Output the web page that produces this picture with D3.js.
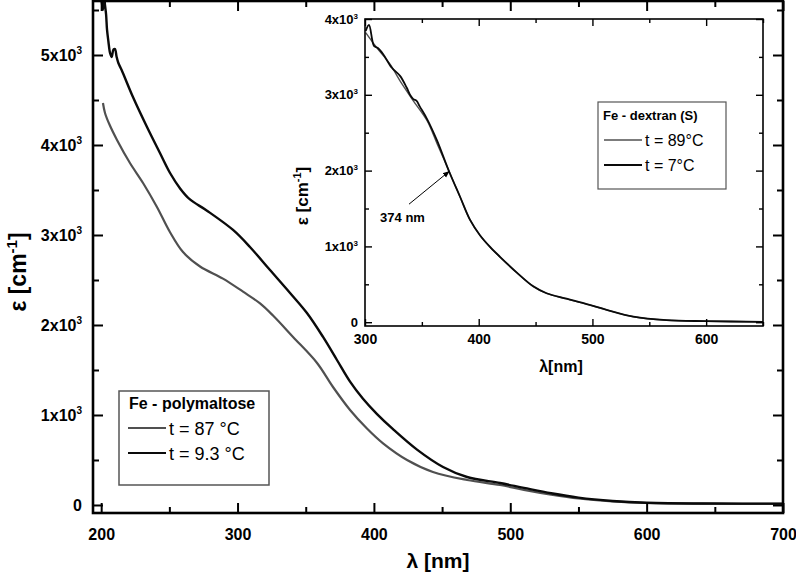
<!DOCTYPE html>
<html><head><meta charset="utf-8">
<script src="https://cdn.jsdelivr.net/npm/d3@7"></script>
<style>
body{margin:0;background:#fff;}
svg text{font-family:"Liberation Sans",Arial,sans-serif;}
</style></head><body>
<svg id="c" width="796" height="575"></svg>
<script>
// ---------- data ----------
const mainXTicks = [200, 300, 400, 500, 600, 700];
const mainXMinor = [250, 350, 450, 550, 650];
const mainYTicks = [0, 1000, 2000, 3000, 4000, 5000];
const mainYTickLabels = ["0", "1x10^3", "2x10^3", "3x10^3", "4x10^3", "5x10^3"];
const mainYMinor = [500, 1500, 2500, 3500, 4500, 5500];

const insetXTicks = [300, 400, 500, 600];
const insetXMinor = [350, 450, 550, 650];
const insetYTicks = [0, 1000, 2000, 3000, 4000];
const insetYTickLabels = ["0", "1x10^3", "2x10^3", "3x10^3", "4x10^3"];
const insetYMinor = [500, 1500, 2500, 3500];

const polyLegendTitle = "Fe - polymaltose";
const polyNames = ["t = 87 \u00b0C", "t = 9.3 \u00b0C"];
const dexLegendTitle = "Fe - dextran (S)";
const dexNames = ["t = 89\u00b0C", "t = 7\u00b0C"];

// Fe-polymaltose, 87 C  [lambda nm, epsilon cm-1]
const polyHot = [[201.3,4467],[202.8,4356],[206,4230],[211.6,4056],[221.1,3800],[230.7,3578],[240.9,3311],
  [250.5,3030],[260,2810],[272.5,2650],[289.3,2515],[304,2370],[316.5,2240],[326,2105],[340.7,1867],
  [358.3,1578],[370,1311],[382.5,1056],[394.9,850],[406.7,685],[424.3,500],[443.3,367],[468.3,278],
  [492.5,222],[510,168],[530,115],[550,72],[575,40],[600,22],[650,14],[700,13]];
// Fe-polymaltose, 9.3 C
const polyCold = [[199.5,5650],[200.5,5580],[201.3,5500],[202.2,5640],[202.8,5555],[203.6,5450],[204.3,5278],
  [205.3,5150],[206.5,5022],[207.7,4978],[209,5060],[210.1,5067],[211.3,4980],[212.6,4911],[215,4833],
  [223.3,4533],[233.6,4200],[243.1,3911],[250.5,3689],[258,3515],[265.1,3395],[277.6,3270],[296.7,3056],
  [309.1,2867],[323.8,2611],[338.5,2356],[350.9,2133],[362.7,1867],[372.9,1611],[382.5,1370],[392,1180],
  [402.3,1010],[414,842],[431.6,615],[450.7,422],[468.3,311],[492.5,244],[510,190],[530,130],[550,82],
  [575,45],[600,25],[650,16],[700,15]];
// Fe-dextran (S), 89 C
const dexHot = [[300.6,3820],[310.3,3622],[322,3404],[330.8,3184],[342.5,2921],[354.6,2658],[363.4,2355],
  [374.2,1985],[383.6,1652],[392.3,1350],[401.1,1145],[410,990],[418.7,860],[433.3,655],[448,470],[459.7,380],
  [477.3,308],[494.9,238],[512.5,162],[536,72],[565.3,26],[600,13],[650,4]];
// Fe-dextran (S), 7 C
const dexCold = [[300.6,3842],[303.5,3921],[307.9,3645],[311,3620],[316,3535],[323.4,3360],[330.8,3250],
  [336.6,3096],[340,2990],[342.5,2943],[345.4,2921],[348,2850],[354.6,2680],[363.4,2395],[374.2,1978],
  [383.6,1655],[392.3,1353],[401.1,1148],[410,993],[418.7,863],[433.3,658],[448,473],[459.7,382],[477.3,310],
  [494.9,240],[512.5,164],[536,74],[565.3,27],[600,14],[650,5]];

const annotation = {label: "374 nm", tip: [374, 1990], tail: [338.7, 1557], text: [333, 1319]};

// ---------- drawing ----------
const FONT = '"Liberation Sans", Arial, sans-serif';
const HOT = "#505050", COLD = "#0a0a0a";
const svg = d3.select("#c");
const defs = svg.append("defs");

function supText(sel, label, supSize, rise) {
  const parts = label.split("^");
  sel.text(parts[0]);
  if (parts.length > 1) {
    sel.append("tspan").attr("font-size", supSize).attr("dy", -rise).text(parts[1]);
  }
}

function styleAxis(g, sw, fontSize) {
  g.attr("font-family", FONT).attr("font-size", fontSize).attr("font-weight", "bold");
  g.select(".domain").remove();
  g.selectAll(".tick line").attr("stroke", "#000").attr("stroke-width", sw);
  g.selectAll(".tick text").attr("fill", "#000");
}

// ===== main plot =====
const mL = 93, mR = 783, mT = 1, mB = 513;
const x = d3.scaleLinear().domain([194, 700]).range([mL, mR]);
const y = d3.scaleLinear().domain([-89, 5600]).range([mB, mT]);

defs.append("clipPath").attr("id", "mclip").append("rect")
  .attr("x", mL).attr("y", mT).attr("width", mR - mL).attr("height", mB - mT);

const mainLine = d3.line().x(d => x(d[0])).y(d => y(d[1])).curve(d3.curveCatmullRom.alpha(0.5));
const mg = svg.append("g").attr("clip-path", "url(#mclip)");
mg.append("path").datum(polyHot).attr("d", mainLine).attr("fill", "none").attr("stroke", HOT).attr("stroke-width", 2.2);
mg.append("path").datum(polyCold).attr("d", mainLine).attr("fill", "none").attr("stroke", COLD).attr("stroke-width", 2.4);

// axes
let g;
g = svg.append("g").attr("transform", `translate(0,${mB})`)
  .call(d3.axisBottom(x).tickValues(mainXTicks).tickSizeInner(-10).tickSizeOuter(0).tickPadding(16).tickFormat(d3.format("d")));
styleAxis(g, 2, 16);
g = svg.append("g").attr("transform", `translate(0,${mB})`)
  .call(d3.axisBottom(x).tickValues(mainXMinor).tickSize(-6).tickFormat(""));
styleAxis(g, 2, 16);
g = svg.append("g").attr("transform", `translate(0,${mT})`)
  .call(d3.axisTop(x).tickValues(mainXTicks).tickSize(-10).tickFormat(""));
styleAxis(g, 2, 16);
g = svg.append("g").attr("transform", `translate(0,${mT})`)
  .call(d3.axisTop(x).tickValues(mainXMinor).tickSize(-6).tickFormat(""));
styleAxis(g, 2, 16);
g = svg.append("g").attr("transform", `translate(${mL},0)`)
  .call(d3.axisLeft(y).tickValues(mainYTicks).tickSizeInner(-10).tickSizeOuter(0).tickPadding(11)
    .tickFormat((d, i) => mainYTickLabels[i]));
styleAxis(g, 2, 16);
g.selectAll(".tick text").each(function(d, i) { supText(d3.select(this), mainYTickLabels[i], 10, 7); });
g = svg.append("g").attr("transform", `translate(${mL},0)`)
  .call(d3.axisLeft(y).tickValues(mainYMinor).tickSize(-6).tickFormat(""));
styleAxis(g, 2, 16);
g = svg.append("g").attr("transform", `translate(${mR},0)`)
  .call(d3.axisRight(y).tickValues(mainYTicks).tickSize(-10).tickFormat(""));
styleAxis(g, 2, 16);
g = svg.append("g").attr("transform", `translate(${mR},0)`)
  .call(d3.axisRight(y).tickValues(mainYMinor).tickSize(-6).tickFormat(""));
styleAxis(g, 2, 16);

svg.append("rect").attr("x", mL).attr("y", mT).attr("width", mR - mL).attr("height", mB - mT)
  .attr("fill", "none").attr("stroke", "#000").attr("stroke-width", 2.6);

// axis titles
svg.append("text").attr("x", (mL + mR) / 2).attr("y", 568).attr("text-anchor", "middle")
  .attr("font-size", 21).attr("font-weight", "bold").attr("font-family", FONT).text("\u03bb [nm]");
const yt = svg.append("text").attr("transform", "translate(26,272) rotate(-90)").attr("text-anchor", "middle")
  .attr("font-size", 23).attr("font-weight", "bold").attr("font-family", FONT);
yt.append("tspan").text("\u03b5 [cm");
yt.append("tspan").attr("font-size", 15).attr("dy", -9).text("-1");
yt.append("tspan").attr("dy", 9).text("]");

// main legend
const lg = svg.append("g");
lg.append("rect").attr("x", 119).attr("y", 391).attr("width", 150).attr("height", 94)
  .attr("fill", "#fff").attr("stroke", "#555").attr("stroke-width", 1.5);
lg.append("text").attr("x", 129).attr("y", 409).attr("font-size", 16).attr("font-weight", "bold")
  .attr("font-family", FONT).text(polyLegendTitle);
[HOT, COLD].forEach((c, i) => {
  const ly = 428 + i * 25;
  lg.append("line").attr("x1", 128).attr("x2", 166).attr("y1", ly).attr("y2", ly)
    .attr("stroke", c).attr("stroke-width", 2);
  lg.append("text").attr("x", 169).attr("y", ly + 7).attr("font-size", 18).attr("font-family", FONT)
    .text(polyNames[i]);
});

// ===== inset =====
const iL = 365, iR = 763, iT = 19, iB = 326;
const xi = d3.scaleLinear().domain([300, 650]).range([iL, iR]);
const yi = d3.scaleLinear().domain([-50, 4000]).range([iB, iT]);

svg.append("rect").attr("x", iL).attr("y", iT).attr("width", iR - iL).attr("height", iB - iT).attr("fill", "#fff");
defs.append("clipPath").attr("id", "iclip").append("rect")
  .attr("x", iL).attr("y", iT - 6).attr("width", iR - iL).attr("height", iB - iT + 6);
const insetLine = d3.line().x(d => xi(d[0])).y(d => yi(d[1])).curve(d3.curveCatmullRom.alpha(0.5));
const ig = svg.append("g").attr("clip-path", "url(#iclip)");
ig.append("path").datum(dexHot).attr("d", insetLine).attr("fill", "none").attr("stroke", HOT).attr("stroke-width", 1.4);
ig.append("path").datum(dexCold).attr("d", insetLine).attr("fill", "none").attr("stroke", COLD).attr("stroke-width", 1.8);

g = svg.append("g").attr("transform", `translate(0,${iB})`)
  .call(d3.axisBottom(xi).tickValues(insetXTicks).tickSizeInner(-7).tickSizeOuter(0).tickPadding(8).tickFormat(d3.format("d")));
styleAxis(g, 1.4, 14);
g = svg.append("g").attr("transform", `translate(0,${iB})`)
  .call(d3.axisBottom(xi).tickValues(insetXMinor).tickSize(-4).tickFormat(""));
styleAxis(g, 1.4, 14);
g = svg.append("g").attr("transform", `translate(0,${iT})`)
  .call(d3.axisTop(xi).tickValues(insetXTicks).tickSize(-7).tickFormat(""));
styleAxis(g, 1.4, 14);
g = svg.append("g").attr("transform", `translate(0,${iT})`)
  .call(d3.axisTop(xi).tickValues(insetXMinor).tickSize(-4).tickFormat(""));
styleAxis(g, 1.4, 14);
g = svg.append("g").attr("transform", `translate(${iL},0)`)
  .call(d3.axisLeft(yi).tickValues(insetYTicks).tickSizeInner(-7).tickSizeOuter(0).tickPadding(7)
    .tickFormat((d, i) => insetYTickLabels[i]));
styleAxis(g, 1.4, 13);
g.selectAll(".tick text").each(function(d, i) { supText(d3.select(this), insetYTickLabels[i], 8, 5); });
g = svg.append("g").attr("transform", `translate(${iL},0)`)
  .call(d3.axisLeft(yi).tickValues(insetYMinor).tickSize(-4).tickFormat(""));
styleAxis(g, 1.4, 13);
g = svg.append("g").attr("transform", `translate(${iR},0)`)
  .call(d3.axisRight(yi).tickValues(insetYTicks).tickSize(-7).tickFormat(""));
styleAxis(g, 1.4, 13);
g = svg.append("g").attr("transform", `translate(${iR},0)`)
  .call(d3.axisRight(yi).tickValues(insetYMinor).tickSize(-4).tickFormat(""));
styleAxis(g, 1.4, 13);

svg.append("rect").attr("x", iL).attr("y", iT).attr("width", iR - iL).attr("height", iB - iT)
  .attr("fill", "none").attr("stroke", "#000").attr("stroke-width", 1.6);

svg.append("text").attr("x", (iL + iR) / 2 - 3).attr("y", 372).attr("text-anchor", "middle")
  .attr("font-size", 16).attr("font-weight", "bold").attr("font-family", FONT).text("\u03bb[nm]");
const yti = svg.append("text").attr("transform", "translate(308,196) rotate(-90)").attr("text-anchor", "middle")
  .attr("font-size", 17).attr("font-weight", "bold").attr("font-family", FONT);
yti.append("tspan").text("\u03b5 [cm");
yti.append("tspan").attr("font-size", 11).attr("dy", -7).text("-1");
yti.append("tspan").attr("dy", 7).text("]");

// annotation arrow
defs.append("marker").attr("id", "arr").attr("viewBox", "0 0 10 10").attr("refX", 9).attr("refY", 5)
  .attr("markerWidth", 7).attr("markerHeight", 7).attr("orient", "auto")
  .append("path").attr("d", "M0,1 L10,5 L0,9 Z").attr("fill", "#000");
svg.append("line").attr("x1", xi(annotation.tail[0])).attr("y1", yi(annotation.tail[1]))
  .attr("x2", xi(annotation.tip[0])).attr("y2", yi(annotation.tip[1]))
  .attr("stroke", "#000").attr("stroke-width", 1).attr("marker-end", "url(#arr)");
svg.append("text").attr("x", xi(annotation.text[0])).attr("y", yi(annotation.text[1])).attr("text-anchor", "middle")
  .attr("font-size", 13).attr("font-weight", "bold").attr("font-family", FONT).text(annotation.label);

// inset legend
const il = svg.append("g");
il.append("rect").attr("x", 598).attr("y", 102).attr("width", 128).attr("height", 87)
  .attr("fill", "#fff").attr("stroke", "#555").attr("stroke-width", 1.2);
il.append("text").attr("x", 603).attr("y", 120).attr("font-size", 13).attr("font-weight", "bold")
  .attr("font-family", FONT).text(dexLegendTitle);
[HOT, COLD].forEach((c, i) => {
  const ly = 140 + i * 25;
  il.append("line").attr("x1", 604).attr("x2", 642).attr("y1", ly).attr("y2", ly)
    .attr("stroke", c).attr("stroke-width", i ? 1.8 : 1.4);
  il.append("text").attr("x", 645).attr("y", ly + 6).attr("font-size", 16).attr("font-family", FONT)
    .text(dexNames[i]);
});
</script>
</body></html>
